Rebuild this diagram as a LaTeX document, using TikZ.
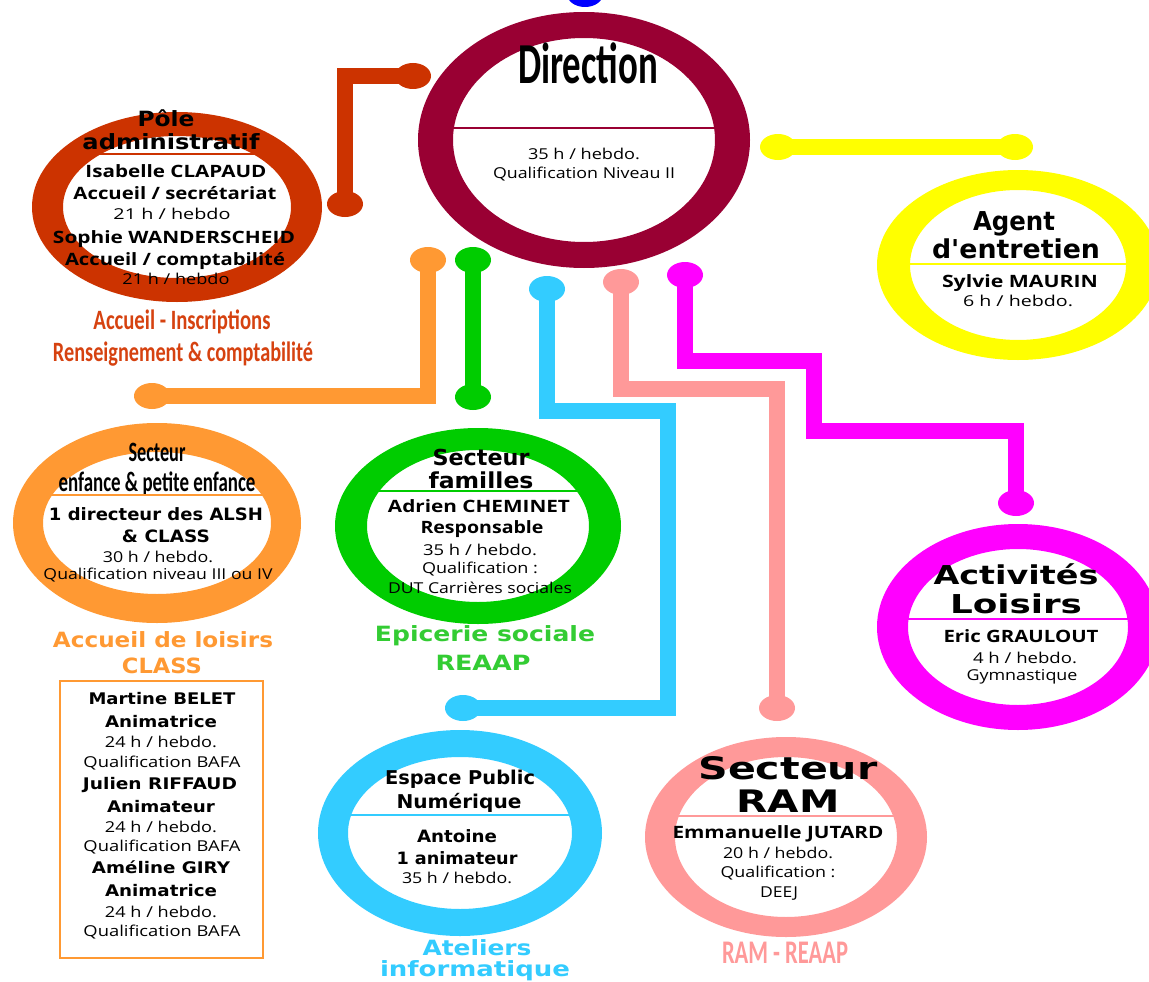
\documentclass[tikz,border=0pt]{standalone}
\usepackage{fontspec}
\usepackage{graphicx}
\usetikzlibrary{shapes.geometric}
\newfontfamily\fC{Carlito}
\newfontfamily\fV{DejaVu Sans}
\newfontfamily\fO{Open Sans}
\newcommand\fw[2]{\resizebox{#1pt}{\height}{#2}}
\definecolor{cDir}{RGB}{153,0,51}
\definecolor{cPole}{RGB}{204,51,0}
\definecolor{cPoleT}{RGB}{214,66,16}
\definecolor{cYel}{RGB}{255,255,0}
\definecolor{cOr}{RGB}{255,153,51}
\definecolor{cGr}{RGB}{0,204,0}
\definecolor{cGrT}{RGB}{51,204,51}
\definecolor{cBl}{RGB}{51,204,255}
\definecolor{cPk}{RGB}{255,153,153}
\definecolor{cMag}{RGB}{255,0,255}
\definecolor{cBlue}{RGB}{0,0,255}
\tikzset{
  lab/.style={anchor=base, inner sep=0pt, text=black},
  cond/.style={lab, font=\fC\bfseries\fontsize{#1}{#1}\selectfont},
  wide/.style={lab, font=\fV\bfseries\fontsize{#1}{#1}\selectfont},
  nameb/.style={lab, font=\fO\bfseries\fontsize{#1}{#1}\selectfont},
  reg/.style={lab, font=\fO\fontsize{#1}{#1}\selectfont},
  dot/.style={ellipse, minimum width=36pt, minimum height=26pt, inner sep=0pt, fill=#1},
  link/.style={line width=16pt, draw=#1},
  ring/.style={fill=#1, even odd rule},
  sep/.style={draw=#1, line width=1.2pt},
}
\begin{document}
\begin{tikzpicture}[x=1pt,y=-1pt]
\fill[white] (0,0) rectangle (1149,982);
\useasboundingbox (0,0) rectangle (1149,982);

% rings
\fill[ring=cDir] (584,140) ellipse [x radius=166pt, y radius=128pt] (584,140) ellipse [x radius=131pt, y radius=102pt];
\fill[ring=cPole] (177,207) ellipse [x radius=145pt, y radius=95pt] (177,207) ellipse [x radius=114pt, y radius=71pt];
\fill[ring=cYel] (1018,265) ellipse [x radius=141pt, y radius=95pt] (1018,265) ellipse [x radius=108pt, y radius=75pt];
\fill[ring=cOr] (157,523) ellipse [x radius=144pt, y radius=100pt] (157,523) ellipse [x radius=114pt, y radius=71pt];
\fill[ring=cGr] (478,526) ellipse [x radius=143pt, y radius=98pt] (478,526) ellipse [x radius=111pt, y radius=76pt];
\fill[ring=cMag] (1018,627) ellipse [x radius=141pt, y radius=103pt] (1018,627) ellipse [x radius=110pt, y radius=78pt];
\fill[ring=cBl] (460,833) ellipse [x radius=142pt, y radius=103pt] (460,833) ellipse [x radius=112pt, y radius=76pt];
\fill[ring=cPk] (786,837) ellipse [x radius=141pt, y radius=100pt] (786,837) ellipse [x radius=111pt, y radius=80pt];

% dots
\node[dot=cBlue] (topdot) at (585,-6) {};
\node[dot=cPole] (pd1) at (345,204) {};
\node[dot=cPole] (pd2) at (413,76) {};
\node[dot=cYel] (yd1) at (778,147) {};
\node[dot=cYel] (yd2) at (1015,147) {};
\node[dot=cOr] (od1) at (428,260) {};
\node[dot=cOr] (od2) at (152,396) {};
\node[dot=cGr] (gd1) at (473,260) {};
\node[dot=cGr] (gd2) at (473,397) {};
\node[dot=cBl] (bd1) at (547,289) {};
\node[dot=cBl] (bd2) at (463,708) {};
\node[dot=cPk] (kd1) at (621,282) {};
\node[dot=cPk] (kd2) at (777,708) {};
\node[dot=cMag] (md1) at (685,275) {};
\node[dot=cMag] (md2) at (1016,503) {};

% connectors
\draw[link=cPole] (pd1.center) |- (pd2.center);
\draw[link=cYel] (yd1.center) -- (yd2.center);
\draw[link=cOr] (od1.center) |- (od2.center);
\draw[link=cGr] (gd1.center) -- (gd2.center);
\draw[link=cBl] (bd1.center) |- (668,411) |- (bd2.center);
\draw[link=cPk] (kd1.center) |- (777,389) -- (kd2.center);
\draw[link=cMag] (md1.center) |- (814,361) -- (814,431) -| (md2.center);

% Direction
\node[cond=58] (dirT) at (588,84) {\fw{140}{Direction}};
\draw[sep=cDir] (453,128) -- (714,128);
\node[reg=15] (dir1) at (584,159) {\fw{112}{35 h / hebdo.}};
\node[reg=15] (dir2) at (584,178) {\fw{182}{Qualification Niveau II}};

% Pole administratif
\node[wide=21] (pa1) at (166,126) {\fw{57}{Pôle}};
\node[wide=21] (pa2) at (171,149) {\fw{177}{administratif}};
\draw[sep=cPole] (83,154) -- (262,154);
\node[nameb=17] (pa3) at (176,177) {\fw{181}{Isabelle CLAPAUD}};
\node[nameb=17] (pa4) at (175,199) {\fw{203}{Accueil / secrétariat}};
\node[reg=15] (pa5) at (172,219) {\fw{117}{21 h / hebdo}};
\node[nameb=17] (pa6) at (174,243) {\fw{242}{Sophie WANDERSCHEID}};
\node[nameb=17] (pa7) at (175,265) {\fw{220}{Accueil / comptabilité}};
\node[reg=15] (pa8) at (176,284) {\fw{107}{21 h / hebdo}};
\node[cond=28, text=cPoleT] (pa9) at (182,329) {\fw{177}{Accueil - Inscriptions}};
\node[cond=28, text=cPoleT] (pa10) at (183,361) {\fw{260}{Renseignement \& comptabilité}};

% Agent d'entretien
\node[wide=26] (ag1) at (1014,230) {\fw{82}{Agent}};
\node[wide=26] (ag2) at (1016,258) {\fw{168}{d'entretien}};
\draw[sep=cYel] (908,264) -- (1128,264);
\node[nameb=17] (ag3) at (1020,287) {\fw{156}{Sylvie MAURIN}};
\node[reg=15] (ag4) at (1018,306) {\fw{110}{6 h / hebdo.}};

% Secteur enfance
\node[cond=28] (en1) at (157,461) {\fw{57}{Secteur}};
\node[cond=28] (en2) at (157,491) {\fw{197}{enfance \& petite enfance}};
\draw[sep=cOr] (48,495) -- (266,495);
\node[wide=17] (en3) at (156,520) {\fw{214}{1 directeur des ALSH}};
\node[wide=17] (en4) at (166,542) {\fw{88}{\& CLASS}};
\node[reg=15] (en5) at (158,562) {\fw{110}{30 h / hebdo.}};
\node[reg=15] (en6) at (158,579) {\fw{229}{Qualification niveau III ou IV}};
\node[wide=21, text=cOr] (en7) at (163,647) {\fw{220}{Accueil de loisirs}};
\node[wide=21, text=cOr] (en8) at (162,673) {\fw{80}{CLASS}};

% staff box
\draw[cOr, line width=1.2pt] (60,681) rectangle (263,958);
\node[wide=16] (bx1) at (162,704) {\fw{147}{Martine BELET}};
\node[wide=16] (bx2) at (161,727) {\fw{112}{Animatrice}};
\node[reg=15] (bx3) at (161,747) {\fw{112}{24 h / hebdo.}};
\node[reg=15] (bx4) at (162,767) {\fw{157}{Qualification BAFA}};
\node[wide=16] (bx5) at (160,789) {\fw{154}{Julien RIFFAUD}};
\node[wide=16] (bx6) at (161,812) {\fw{108}{Animateur}};
\node[reg=15] (bx7) at (161,832) {\fw{112}{24 h / hebdo.}};
\node[reg=15] (bx8) at (162,851) {\fw{157}{Qualification BAFA}};
\node[wide=16] (bx9) at (161,873) {\fw{138}{Améline GIRY}};
\node[wide=16] (bx10) at (161,896) {\fw{112}{Animatrice}};
\node[reg=15] (bx11) at (161,917) {\fw{112}{24 h / hebdo.}};
\node[reg=15] (bx12) at (162,936) {\fw{157}{Qualification BAFA}};

% Secteur familles
\node[wide=22] (fa1) at (481,465) {\fw{97}{Secteur}};
\node[wide=22] (fa2) at (481,488) {\fw{105}{familles}};
\draw[sep=cGr] (370,491) -- (586,491);
\node[nameb=17] (fa3) at (479,512) {\fw{182}{Adrien CHEMINET}};
\node[nameb=17] (fa4) at (482,533) {\fw{123}{Responsable}};
\node[reg=15] (fa5) at (480,555) {\fw{114}{35 h / hebdo.}};
\node[reg=15] (fa6) at (480,573) {\fw{116}{Qualification :}};
\node[reg=15] (fa7) at (480,593) {\fw{184}{DUT Carrières sociales}};
\node[wide=21, text=cGrT] (fa8) at (485,641) {\fw{220}{Epicerie sociale}};
\node[wide=21, text=cGrT] (fa9) at (483,670) {\fw{95}{REAAP}};

% Activites Loisirs
\node[wide=26] (ac1) at (1016,584) {\fw{165}{Activités}};
\node[wide=26] (ac2) at (1016,613) {\fw{132}{Loisirs}};
\draw[sep=cMag] (908,619) -- (1133,619);
\node[nameb=17] (ac3) at (1021,642) {\fw{155}{Eric GRAULOUT}};
\node[reg=15] (ac4) at (1025,663) {\fw{104}{4 h / hebdo.}};
\node[reg=15] (ac5) at (1022,680) {\fw{111}{Gymnastique}};

% Espace Public Numerique
\node[wide=19] (ep1) at (460,784) {\fw{150}{Espace Public}};
\node[wide=19] (ep2) at (459,808) {\fw{125}{Numérique}};
\draw[sep=cBl] (349,815) -- (571,815);
\node[wide=17] (ep3) at (457,842) {\fw{80}{Antoine}};
\node[wide=17] (ep4) at (457,864) {\fw{121}{1 animateur}};
\node[reg=15] (ep5) at (457,883) {\fw{110}{35 h / hebdo.}};
\node[wide=21, text=cBl] (ep6) at (477,955) {\fw{109}{Ateliers}};
\node[wide=21, text=cBl] (ep7) at (475,976) {\fw{190}{informatique}};

% Secteur RAM
\node[wide=31] (ra1) at (788,779) {\fw{179}{Secteur}};
\node[wide=31] (ra2) at (788,812) {\fw{103}{RAM}};
\draw[sep=cPk] (672,816) -- (895,816);
\node[nameb=17] (ra3) at (778,838) {\fw{211}{Emmanuelle JUTARD}};
\node[reg=15] (ra4) at (778,858) {\fw{110}{20 h / hebdo.}};
\node[reg=15] (ra5) at (778,877) {\fw{115}{Qualification :}};
\node[reg=15] (ra6) at (779,897) {\fw{38}{DEEJ}};
\node[cond=33, text=cPk] (ra7) at (785,963) {\fw{126}{RAM - REAAP}};
\end{tikzpicture}
\end{document}
